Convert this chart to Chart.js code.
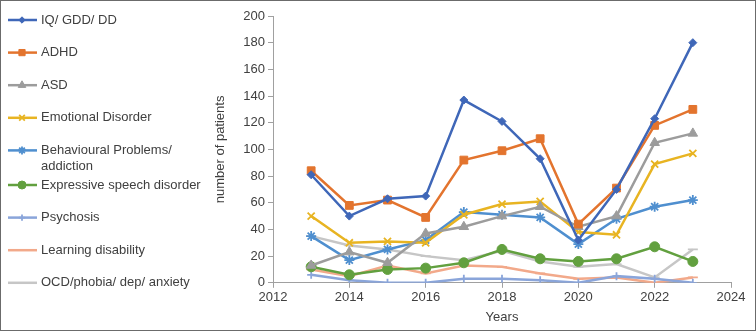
<!DOCTYPE html>
<html>
<head>
<meta charset="utf-8">
<script src="https://cdn.jsdelivr.net/npm/chart.js@4.4.1/dist/chart.umd.min.js"></script>
<style>
  html, body { margin: 0; padding: 0; background: #fff; }
  #wrap { width: 756px; height: 331px; box-sizing: border-box; border: 1px solid #6b6b6b; position: relative; }
  #wrap canvas { position: absolute; left: -1px; top: -1px; }
</style>
</head>
<body>
<div id="wrap"><canvas id="grafica" width="756" height="331"></canvas></div>
<script>
//Datos
const years = [2013, 2014, 2015, 2016, 2017, 2018, 2019, 2020, 2021, 2022, 2023];

const iqGddDd      = [81, 50, 63, 65, 137, 121, 93, 32, 70, 123, 180];
const adhd         = [84, 58, 62, 49, 92, 99, 108, 44, 71, 118, 130];
const asd          = [13, 23, 15, 37, 42, 50, 57, 42, 50, 105, 112];
const emotional    = [50, 30, 31, 30, 51, 59, 61, 38, 36, 89, 97];
const behavioural  = [35, 17, 25, 32, 53, 51, 49, 29, 48, 57, 62];
const expressive   = [12, 6, 10, 11, 15, 25, 18, 16, 18, 27, 16];
const psychosis    = [6, 2, 0, 0, 3, 3, 2, 0, 5, 3, 0];
const learning     = [10, 5, 13, 7, 13, 12, 7, 3, 4, 0, 4];
const ocd          = [35, 28, 25, 20, 17, 24, 16, 12, 14, 4, 25];

const xTicks = [2012, 2014, 2016, 2018, 2020, 2022, 2024];

const FONT = "'Liberation Sans', Arial, sans-serif";
const TXT = '#404040';

function serie(label, values, color, style, radius) {
  return {
    label: label,
    data: years.map((y, i) => ({ x: y, y: values[i] })),
    borderColor: color,
    backgroundColor: color,
    borderWidth: 2.5,
    pointStyle: style,
    pointRadius: radius,
    pointBorderWidth: style === 'crossRot' || style === 'star' || style === 'cross' || style === 'line' ? 1.8 : 1,
    tension: 0
  };
}

const datasets = [
  serie('IQ/ GDD/ DD', iqGddDd, '#3F67B8', 'rectRot', 4),
  serie('ADHD', adhd, '#E3742E', 'rect', 5.5),
  serie('ASD', asd, '#9C9C9C', 'triangle', 5.5),
  serie('Emotional Disorder', emotional, '#E8B422', 'crossRot', 5),
  serie('Behavioural Problems/ addiction', behavioural, '#4F8FCF', 'star', 5),
  serie('Expressive speech disorder', expressive, '#62A03F', 'circle', 5),
  serie('Psychosis', psychosis, '#8AA5DA', 'cross', 4),
  serie('Learning disability', learning, '#F2A98A', 'line', 5),
  serie('OCD/phobia/ dep/ anxiety', ocd, '#C6C6C6', 'line', 5)
];

//Leyenda a la izquierda, dibujada a mano
const leyendaIzq = {
  id: 'leyendaIzq',
  afterDraw(chart) {
    const ctx = chart.ctx;
    ctx.save();
    ctx.font = '13px ' + FONT;
    ctx.textBaseline = 'middle';
    ctx.fillStyle = TXT;
    let extra = 0;
    chart.data.datasets.forEach((ds, i) => {
      const y = 20 + 32.6 * i + extra;
      ctx.strokeStyle = ds.borderColor;
      ctx.lineWidth = 2.5;
      ctx.beginPath();
      ctx.moveTo(8, y);
      ctx.lineTo(37, y);
      ctx.stroke();
      if (ds.pointStyle !== 'line') {
        ctx.fillStyle = ds.backgroundColor;
        ctx.lineWidth = ds.pointBorderWidth;
        Chart.helpers.drawPoint(ctx, {
          pointStyle: ds.pointStyle,
          radius: ds.pointRadius * 0.8,
          rotation: 0,
          borderWidth: ds.pointBorderWidth
        }, 22, y);
      }
      //partir el texto si es muy largo
      const words = ds.label.split(' ');
      const lines = [];
      let cur = '';
      words.forEach(w => {
        const t = cur ? cur + ' ' + w : w;
        if (ctx.measureText(t).width > 170 && cur) { lines.push(cur); cur = w; }
        else cur = t;
      });
      lines.push(cur);
      ctx.fillStyle = TXT;
      lines.forEach((l, k) => ctx.fillText(l, 41, y + k * 16));
      if (lines.length > 1 && i === 4) extra = 2;
    });
    ctx.restore();
  }
};

new Chart(document.getElementById('grafica'), {
  type: 'line',
  data: { datasets: datasets },
  plugins: [leyendaIzq],
  options: {
    responsive: false,
    animation: false,
    layout: { padding: { left: 213, top: 16, right: 25, bottom: 6 } },
    plugins: {
      legend: { display: false },
      tooltip: { enabled: false }
    },
    scales: {
      x: {
        type: 'linear',
        min: 2012,
        max: 2024,
        afterBuildTicks: (s) => { s.ticks = xTicks.map(v => ({ value: v })); },
        ticks: { color: TXT, font: { family: FONT, size: 13 }, padding: 2, maxRotation: 0, callback: (v) => String(v) },
        grid: { display: true, drawOnChartArea: false, drawTicks: true, tickLength: 5, color: '#a0a0a0' },
        border: { color: '#a0a0a0', width: 1 },
        title: { display: true, text: 'Years', color: TXT, font: { family: FONT, size: 13 }, padding: { top: 2, bottom: 0 } }
      },
      y: {
        min: 0,
        max: 200,
        ticks: { stepSize: 20, color: TXT, font: { family: FONT, size: 13 }, padding: 3 },
        grid: { display: true, drawOnChartArea: false, drawTicks: true, tickLength: 5, color: '#a0a0a0' },
        border: { color: '#a0a0a0', width: 1 },
        title: { display: true, text: 'number of patients', color: TXT, font: { family: FONT, size: 13 }, padding: { top: 0, bottom: 2 } },
        afterFit: (s) => { s.width = 60; }
      }
    }
  }
});
</script>
</body>
</html>
